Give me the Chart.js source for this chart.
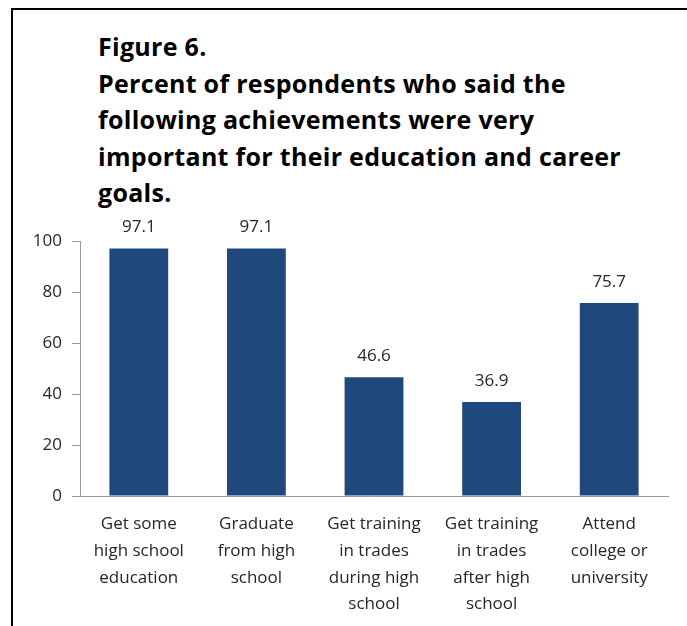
<!DOCTYPE html>
<html>
<head>
<meta charset="utf-8">
<script src="https://cdn.jsdelivr.net/npm/chart.js@4.4.1/dist/chart.umd.min.js"></script>
<style>
  html, body { margin: 0; padding: 0; background: #fff; overflow: hidden; }
  .frame {
    position: absolute; left: 11px; top: 8px; width: 700px; height: 700px;
    border-left: 2px solid #000; border-top: 2px solid #000;
  }
  .fig-title {
    position: absolute; left: 98px; top: 28px;
    font: bold 25px "Open Sans", Lato, sans-serif; line-height: 36.5px; color: #000;
    letter-spacing: 0.3px;
  }
  #chartWrap { position: absolute; left: 0; top: 0; width: 687px; height: 640px; }
</style>
</head>
<body>
<div class="frame"></div>
<div class="fig-title">
  Figure 6.<br>
  Percent of respondents who said the<br>
  following achievements were very<br>
  important for their education and career<br>
  goals.
</div>
<div id="chartWrap"><canvas id="chartBar" width="687" height="640"></canvas></div>

<script>
/* ── Dados ── */
const CATEGORIAS = [
  ['Get some', 'high school', 'education'],
  ['Graduate', 'from high', 'school'],
  ['Get training', 'in trades', 'during high', 'school'],
  ['Get training', 'in trades', 'after high', 'school'],
  ['Attend', 'college or', 'university'],
];
const PERCENTUAIS = [97.1, 97.1, 46.6, 36.9, 75.7];
const Y_TICKS = [0, 20, 40, 60, 80, 100];

const FONT = '"Open Sans", Lato, sans-serif';
const BAR_COLOR = '#1F497D';

/* rótulos de valor acima das barras */
const valueLabels = {
  id: 'valueLabels',
  afterDatasetsDraw(chart) {
    const { ctx } = chart;
    const meta = chart.getDatasetMeta(0);
    ctx.save();
    ctx.font = `17px ${FONT}`;
    ctx.fillStyle = '#262626';
    ctx.textAlign = 'center';
    ctx.textBaseline = 'middle';
    meta.data.forEach((bar, i) => {
      ctx.fillText(PERCENTUAIS[i].toFixed(1), bar.x, bar.y - 21);
    });
    ctx.restore();
  }
};

const ctx = document.getElementById('chartBar').getContext('2d');
new Chart(ctx, {
  type: 'bar',
  data: {
    labels: CATEGORIAS,
    datasets: [{
      data: PERCENTUAIS,
      backgroundColor: BAR_COLOR,
      borderWidth: 0,
      barPercentage: 0.5,
      categoryPercentage: 1,
    }],
  },
  options: {
    responsive: false,
    animation: false,
    layout: { padding: { left: 0, right: 19, top: 241, bottom: 0 } },
    plugins: { legend: { display: false }, tooltip: { enabled: false } },
    scales: {
      x: {
        grid: { display: true, drawOnChartArea: false, drawTicks: false },
        border: { display: true, color: '#999', width: 1 },
        ticks: {
          color: '#262626',
          font: { family: FONT, size: 17, lineHeight: 1.57 },
          padding: 15,
          maxRotation: 0,
          autoSkip: false,
        },
        afterFit: s => { s.height = 144; },
      },
      y: {
        min: 0, max: 100,
        afterBuildTicks: s => { s.ticks = Y_TICKS.map(v => ({ value: v })); },
        grid: { display: true, drawOnChartArea: false, drawTicks: true, tickLength: 8, color: '#999' },
        border: { display: true, color: '#999', width: 1 },
        ticks: {
          color: '#262626',
          font: { family: FONT, size: 17 },
          padding: 10,
        },
        afterFit: s => { s.width = 80; },
      },
    },
  },
  plugins: [valueLabels],
});
</script>
</body>
</html>
